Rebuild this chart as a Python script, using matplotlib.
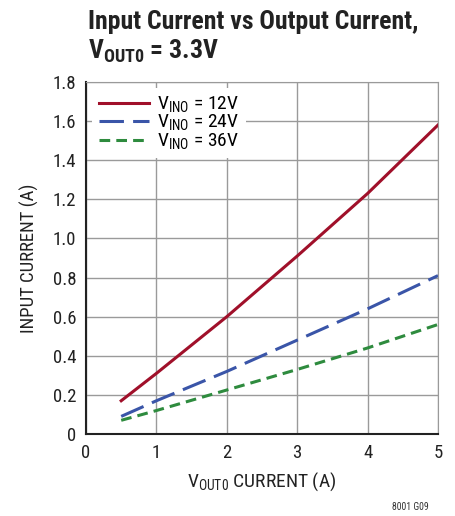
import matplotlib.pyplot as plt
from matplotlib import font_manager

current_out = [0.5, 1, 2, 3, 4, 5]
iin_12v = [0.17, 0.31, 0.60, 0.91, 1.23, 1.58]
iin_24v = [0.09, 0.17, 0.32, 0.48, 0.64, 0.81]
iin_36v = [0.07, 0.12, 0.225, 0.33, 0.44, 0.56]
labels = ['V$_{\\mathregular{INO}}$ = 12V', 'V$_{\\mathregular{INO}}$ = 24V', 'V$_{\\mathregular{INO}}$ = 36V']

# condensed face, close to the datasheet font
names = {f.name for f in font_manager.fontManager.ttflist}
fam = 'DejaVu Sans'
for cand in ['Roboto Condensed', 'Archivo Narrow', 'Liberation Sans Narrow']:
    if cand in names:
        fam = cand
        break
plt.rcParams['font.family'] = [fam, 'DejaVu Sans']
plt.rcParams['mathtext.fontset'] = 'custom'
plt.rcParams['mathtext.rm'] = fam
plt.rcParams['mathtext.bf'] = fam + ':bold'

fig = plt.figure(figsize=(4.56, 5.16), dpi=100)
ax = fig.add_axes([0.1886, 0.1589, 0.7719, 0.6822])

ax.plot(current_out, iin_12v, color='#a0102a', lw=2.2, label=labels[0])
ax.plot(current_out, iin_24v, color='#3a55a8', lw=2.2, dashes=(8, 3), label=labels[1])
ax.plot(current_out, iin_36v, color='#2e8b3e', lw=2.2, dashes=(3.5, 2), label=labels[2])

ax.set_xlim(0, 5)
ax.set_ylim(0, 1.8)
ax.set_xticks(range(0, 6))
ax.set_yticks([0, 0.2, 0.4, 0.6, 0.8, 1.0, 1.2, 1.4, 1.6, 1.8])
ax.set_yticklabels(['0', '0.2', '0.4', '0.6', '0.8', '1.0', '1.2', '1.4', '1.6', '1.8'])
ax.grid(True, color='#9a9a9a', lw=1)
ax.tick_params(length=0, labelsize=13.5, colors='#222222', pad=7)
for s in ['top', 'right']:
    ax.spines[s].set_color('#9a9a9a')
for s in ['left', 'bottom']:
    ax.spines[s].set_color('#222222')
    ax.spines[s].set_linewidth(1.5)

ax.set_ylabel('INPUT CURRENT (A)', fontsize=13.5, color='#222222', labelpad=10)
ax.set_xlabel('V$_{\\mathregular{OUT0}}$ CURRENT (A)', fontsize=14, color='#222222', labelpad=6)

leg = ax.legend(loc='upper left', fontsize=14, frameon=True, fancybox=False,
                handlelength=2.6, borderaxespad=0.3, labelspacing=-0.1, handletextpad=0.4,
                borderpad=0.35)
leg.get_frame().set_edgecolor('none')
leg.get_frame().set_alpha(1)

fig.text(0.193, 0.98, 'Input Current vs Output Current,', fontsize=18.5, fontweight='bold',
         color='#222222', va='top')
fig.text(0.193, 0.927, 'V$_{\\mathbf{OUT0}}$ = 3.3V', fontsize=18.5, fontweight='bold',
         color='#222222', va='top')
fig.text(0.94, 0.012, '8001 G09', fontsize=7, color='#333333', ha='right')

fig.savefig('out.png', dpi=100)
